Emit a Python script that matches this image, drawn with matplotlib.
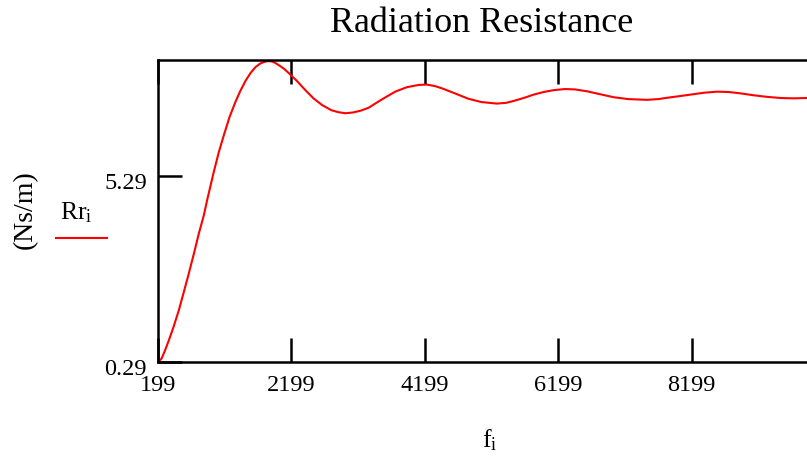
import matplotlib
matplotlib.use('Agg')
import matplotlib.pyplot as plt
import matplotlib.transforms as mtransforms
from matplotlib.lines import Line2D

plt.rcParams['font.family'] = 'Liberation Serif'
plt.rcParams['mathtext.fontset'] = 'custom'
plt.rcParams['mathtext.rm'] = 'Liberation Serif'
plt.rcParams['mathtext.it'] = 'Liberation Serif'

# frequency (Hz) and radiation resistance (Ns/m)
f = [199, 252, 300, 361, 430, 511, 580, 661, 740, 811, 886, 936, 1036, 1110,
     1186, 1270, 1361, 1436, 1511, 1586, 1661, 1736, 1811, 1859, 1909, 1959,
     2011, 2085, 2159, 2280, 2409, 2530, 2659, 2800, 2900, 3009, 3120, 3240,
     3359, 3500, 3630, 3756, 3930, 4106, 4230, 4350, 4456, 4656, 4850, 5050,
     5280, 5420, 5550, 5700, 5830, 5980, 6130, 6300, 6450, 6630, 6830, 7030,
     7250, 7530, 7700, 7850, 8020, 8179, 8380, 8580, 8760, 8950, 9140, 9330,
     9530, 9730, 9930, 10199]
Rr = [0.29, 0.38, 0.58, 0.87, 1.22, 1.68, 2.13, 2.67, 3.22, 3.74, 4.23, 4.64,
      5.40, 5.92, 6.38, 6.86, 7.28, 7.58, 7.84, 8.05, 8.21, 8.31, 8.36, 8.37,
      8.36, 8.32, 8.26, 8.17, 8.05, 7.84, 7.59, 7.37, 7.19, 7.05, 7.00, 6.97,
      6.99, 7.04, 7.12, 7.28, 7.42, 7.55, 7.67, 7.73, 7.74, 7.70, 7.64, 7.50,
      7.36, 7.27, 7.23, 7.25, 7.31, 7.39, 7.47, 7.54, 7.59, 7.62, 7.61, 7.56,
      7.48, 7.40, 7.35, 7.33, 7.35, 7.39, 7.43, 7.47, 7.52, 7.55, 7.54, 7.50,
      7.45, 7.41, 7.38, 7.37, 7.38, 7.41]

xticks = [199, 2199, 4199, 6199, 8199]
yticks = [0.29, 5.29]

fig = plt.figure(figsize=(8.07, 4.61), dpi=100)
ax = fig.add_axes([158/807, 1-362/461, (825-158)/807, (362-60)/461])

ax.plot(f, Rr, color='red', lw=1.5)
ax.set_xlim(199, 10199)
ax.set_ylim(0.29, 8.40)
ax.set_xticks(xticks)
ax.set_xticklabels([str(t) for t in xticks])
ax.set_yticks(yticks)
ax.set_yticklabels(['0.29', '5.29'])
ax.tick_params(direction='in', length=17, width=1.8, labelsize=17.5,
               top=True, right=False)
ax.tick_params(axis='x', pad=9)
ax.tick_params(axis='y', pad=8)
for s in ax.spines.values():
    s.set_linewidth(1.8)

# mathcad puts the y labels a bit below their ticks
shift = mtransforms.ScaledTranslation(0, -5/100, fig.dpi_scale_trans)
for lab in ax.get_yticklabels():
    lab.set_transform(lab.get_transform() + shift)

fig.text(482/807, 1-24/461, 'Radiation Resistance', ha='center', va='center', fontsize=26)
fig.text(25/807, 1-210/461, '(Ns/m)', rotation=90, ha='center', va='center', fontsize=20)
fig.text(76/807, 1-213/461, r'$\mathrm{Rr_i}$', ha='center', va='center', fontsize=18.5)
fig.add_artist(Line2D([56/807, 107/807], [1-238/461, 1-238/461], color='red', lw=1.5))
fig.text(490/807, 1-440/461, r'$\mathrm{f_i}$', ha='center', va='center', fontsize=18.5)

fig.savefig('out.png', dpi=100)
